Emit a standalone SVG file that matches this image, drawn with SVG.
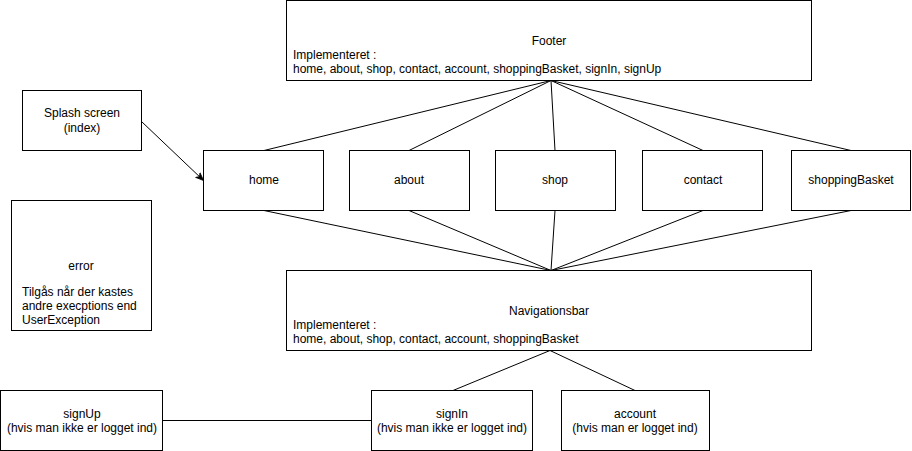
<svg xmlns="http://www.w3.org/2000/svg" width="912" height="451" viewBox="0 0 912 451">
<style>
.box{fill:#fff;stroke:#000;stroke-width:1}
.t{font-family:"Liberation Sans",Arial,sans-serif;font-size:12px;fill:#000}
.c{text-anchor:middle}
.ln{stroke:#000;stroke-width:1;fill:none}
</style>
<defs>
<marker id="arr" viewBox="0 0 10 10" refX="9" refY="5" markerWidth="8" markerHeight="8" orient="auto" markerUnits="userSpaceOnUse">
<path d="M0,1 L10,5 L0,9 L3,5 Z" fill="#000" stroke="#000" stroke-width="1"/>
</marker>
</defs>
<rect width="912" height="451" fill="#fff"/>
<g id="connectors">
<line class="ln" x1="551" y1="80.5" x2="264" y2="150.5"/>
<line class="ln" x1="551" y1="80.5" x2="409" y2="150.5"/>
<line class="ln" x1="551" y1="80.5" x2="555" y2="150.5"/>
<line class="ln" x1="551" y1="80.5" x2="703" y2="150.5"/>
<line class="ln" x1="551" y1="80.5" x2="851" y2="150.5"/>
<line class="ln" x1="551" y1="270.5" x2="264" y2="210.5"/>
<line class="ln" x1="551" y1="270.5" x2="409" y2="210.5"/>
<line class="ln" x1="551" y1="270.5" x2="555" y2="210.5"/>
<line class="ln" x1="551" y1="270.5" x2="703" y2="210.5"/>
<line class="ln" x1="551" y1="270.5" x2="851" y2="210.5"/>
<line class="ln" x1="550" y1="350.5" x2="453" y2="390.5"/>
<line class="ln" x1="550" y1="350.5" x2="635" y2="390.5"/>
<line class="ln" x1="163" y1="420.5" x2="371" y2="420.5"/>
<line class="ln" x1="141.5" y1="121.5" x2="203" y2="180" marker-end="url(#arr)"/>
</g>
<g id="footer">
<rect class="box" x="286.5" y="0.5" width="525" height="80"/>
<text class="t c" x="549" y="45">Footer</text>
<text class="t" x="293" y="59">Implementeret :</text>
<text class="t" x="293" y="73">home, about, shop, contact, account, shoppingBasket, signIn, signUp</text>
</g>
<g id="splash">
<rect class="box" x="22.5" y="90.5" width="119" height="60"/>
<text class="t c" x="82" y="117">Splash screen</text>
<text class="t c" x="82" y="132">(index)</text>
</g>
<g id="home">
<rect class="box" x="203.5" y="150.5" width="120" height="60"/>
<text class="t c" x="264" y="184">home</text>
</g>
<g id="about">
<rect class="box" x="349.5" y="150.5" width="120" height="60"/>
<text class="t c" x="409" y="184">about</text>
</g>
<g id="shop">
<rect class="box" x="495.5" y="150.5" width="120" height="60"/>
<text class="t c" x="555" y="184">shop</text>
</g>
<g id="contact">
<rect class="box" x="642.5" y="150.5" width="120" height="60"/>
<text class="t c" x="703" y="184">contact</text>
</g>
<g id="shoppingBasket">
<rect class="box" x="791.5" y="150.5" width="119" height="60"/>
<text class="t c" x="851" y="184">shoppingBasket</text>
</g>
<g id="error">
<rect class="box" x="11.5" y="200.5" width="140" height="130"/>
<text class="t c" x="81" y="270">error</text>
<text class="t" x="22" y="296">Tilgås når der kastes</text>
<text class="t" x="22" y="310">andre execptions end</text>
<text class="t" x="22" y="324">UserException</text>
</g>
<g id="navigationsbar">
<rect class="box" x="286.5" y="270.5" width="525" height="80"/>
<text class="t c" x="549" y="315">Navigationsbar</text>
<text class="t" x="293" y="329">Implementeret :</text>
<text class="t" x="293" y="343">home, about, shop, contact, account, shoppingBasket</text>
</g>
<g id="signUp">
<rect class="box" x="0.5" y="390.5" width="162" height="60"/>
<text class="t c" x="82" y="418">signUp</text>
<text class="t c" x="82" y="432">(hvis man ikke er logget ind)</text>
</g>
<g id="signIn">
<rect class="box" x="371.5" y="390.5" width="161" height="60"/>
<text class="t c" x="452" y="418">signIn</text>
<text class="t c" x="452" y="432">(hvis man ikke er logget ind)</text>
</g>
<g id="account">
<rect class="box" x="561.5" y="390.5" width="148" height="60"/>
<text class="t c" x="635" y="418">account</text>
<text class="t c" x="635" y="432">(hvis man er logget ind)</text>
</g>
</svg>
